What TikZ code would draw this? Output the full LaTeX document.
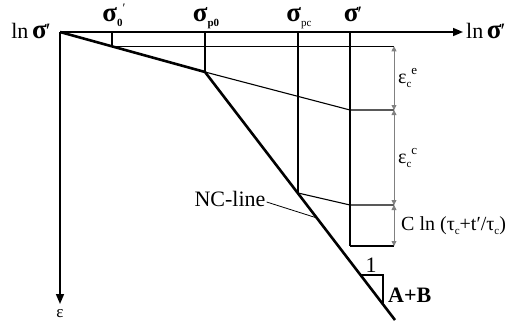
\documentclass[tikz,border=0pt]{standalone}
\usepackage{fontspec}
\setmainfont{Liberation Serif}
\usetikzlibrary{arrows.meta}
\newcommand\lo[1]{\raisebox{-0.45ex}{\fontsize{11}{11}\selectfont #1}}
\newcommand\hi[1]{\raisebox{0.9ex}{\fontsize{13}{13}\selectfont #1}}
\newcommand\sig{{\fontsize{27}{27}\selectfont\bfseries σ}}
\begin{document}
\begin{tikzpicture}[x=1pt,y=-1pt,
  txt/.style={inner sep=0pt,font=\fontsize{22}{22}\selectfont},
  axis/.style={line width=1.6pt,-{Triangle[length=10pt,width=8pt]}},
  thick line/.style={line width=2.6pt},
  thin line/.style={line width=1.1pt},
  dim/.style={draw=gray,line width=0.8pt,{Triangle[length=5pt,width=5pt]}-{Triangle[length=5pt,width=5pt]}}]
\useasboundingbox (0,0) rectangle (514,321);
% key points
\coordinate (O) at (60,32);
\coordinate (X) at (463,32);
\coordinate (Y) at (60,304);
\coordinate (A0) at (112,32);
\coordinate (B0) at (112,46.3);
\coordinate (Ap0) at (205,32);
\coordinate (P0) at (205,72);
\coordinate (Apc) at (298,32);
\coordinate (Pc) at (298,193);
\coordinate (As) at (350,32);
\coordinate (S1) at (350,110);
\coordinate (S2) at (350,205);
\coordinate (S3) at (350,246);
\coordinate (D0) at (394,46.3);
\coordinate (D1) at (394,110);
\coordinate (D2) at (394,205);
\coordinate (D3) at (394,246);
\coordinate (E) at (395,320);
\coordinate (T1) at (360.5,275);
\coordinate (T2) at (383,275);
\coordinate (T3) at (383,304);
\coordinate (L1) at (317,218);
% axes
\draw[axis] (O) -- (X);
\draw[axis] (O) -- (Y);
% NC line
\draw[thick line] (O) -- (P0) -- (E);
% verticals
\draw[thin line] (A0) -- (B0);
\draw[thin line] (Ap0) -- (P0);
\draw[thin line] (Apc) -- (Pc);
\draw[thin line] (As) -- (S3);
% horizontals
\draw[thin line] (B0) -- (D0);
\draw[thin line] (P0) -- (S1) -- (D1);
\draw[thin line] (Pc) -- (S2) -- (D2);
\draw[thin line] (S3) -- (D3);
% dimension lines
\draw[dim] (D0) -- (D1);
\draw[dim] (D1) -- (D2);
\draw[dim] (D2) -- (D3);
% slope triangle
\draw[thin line] (T1) -- (T2) -- (T3);
% labels
\node[txt,anchor=base] (lnL) at (31,39) {ln\,\sig\kern-1pt′};
\node[txt,anchor=base west] (lnR) at (466,39) {ln\,\sig\kern-1pt′};
\node[txt,anchor=base] (s0) at (114,22) {\sig\lo{\textbf{0}}\hi{′}};
\node[txt,anchor=base] (sp0) at (206,22) {\sig\lo{\textbf{p0}}};
\node[txt,anchor=base] (spc) at (299,22) {\sig\lo{pc}};
\node[txt,anchor=base] (sp) at (353,22) {\sig\kern-1pt′};
\node[inner sep=0pt,font=\fontsize{17}{17}\selectfont] (eps) at (60,314) {ε};
\node[inner sep=0pt,font=\fontsize{20}{20}\selectfont,anchor=west] (ece) at (398,78) {ε\lo{c}\hi{e}};
\node[inner sep=0pt,font=\fontsize{20}{20}\selectfont,anchor=west] (ecc) at (398,158) {ε\lo{c}\hi{c}};
\node[inner sep=0pt,font=\fontsize{20}{20}\selectfont,anchor=west] (Cln) at (401,226) {C ln (τ\lo{c}+t′/τ\lo{c})};
\node[txt] (NC) at (230,199) {NC-line};
\node[txt] (one) at (371,265) {1};
\node[txt,anchor=west] (AB) at (388,295) {\textbf{A+B}};
\draw[line width=0.8pt] (NC.east) ++(1,3) -- (L1);
\end{tikzpicture}
\end{document}
